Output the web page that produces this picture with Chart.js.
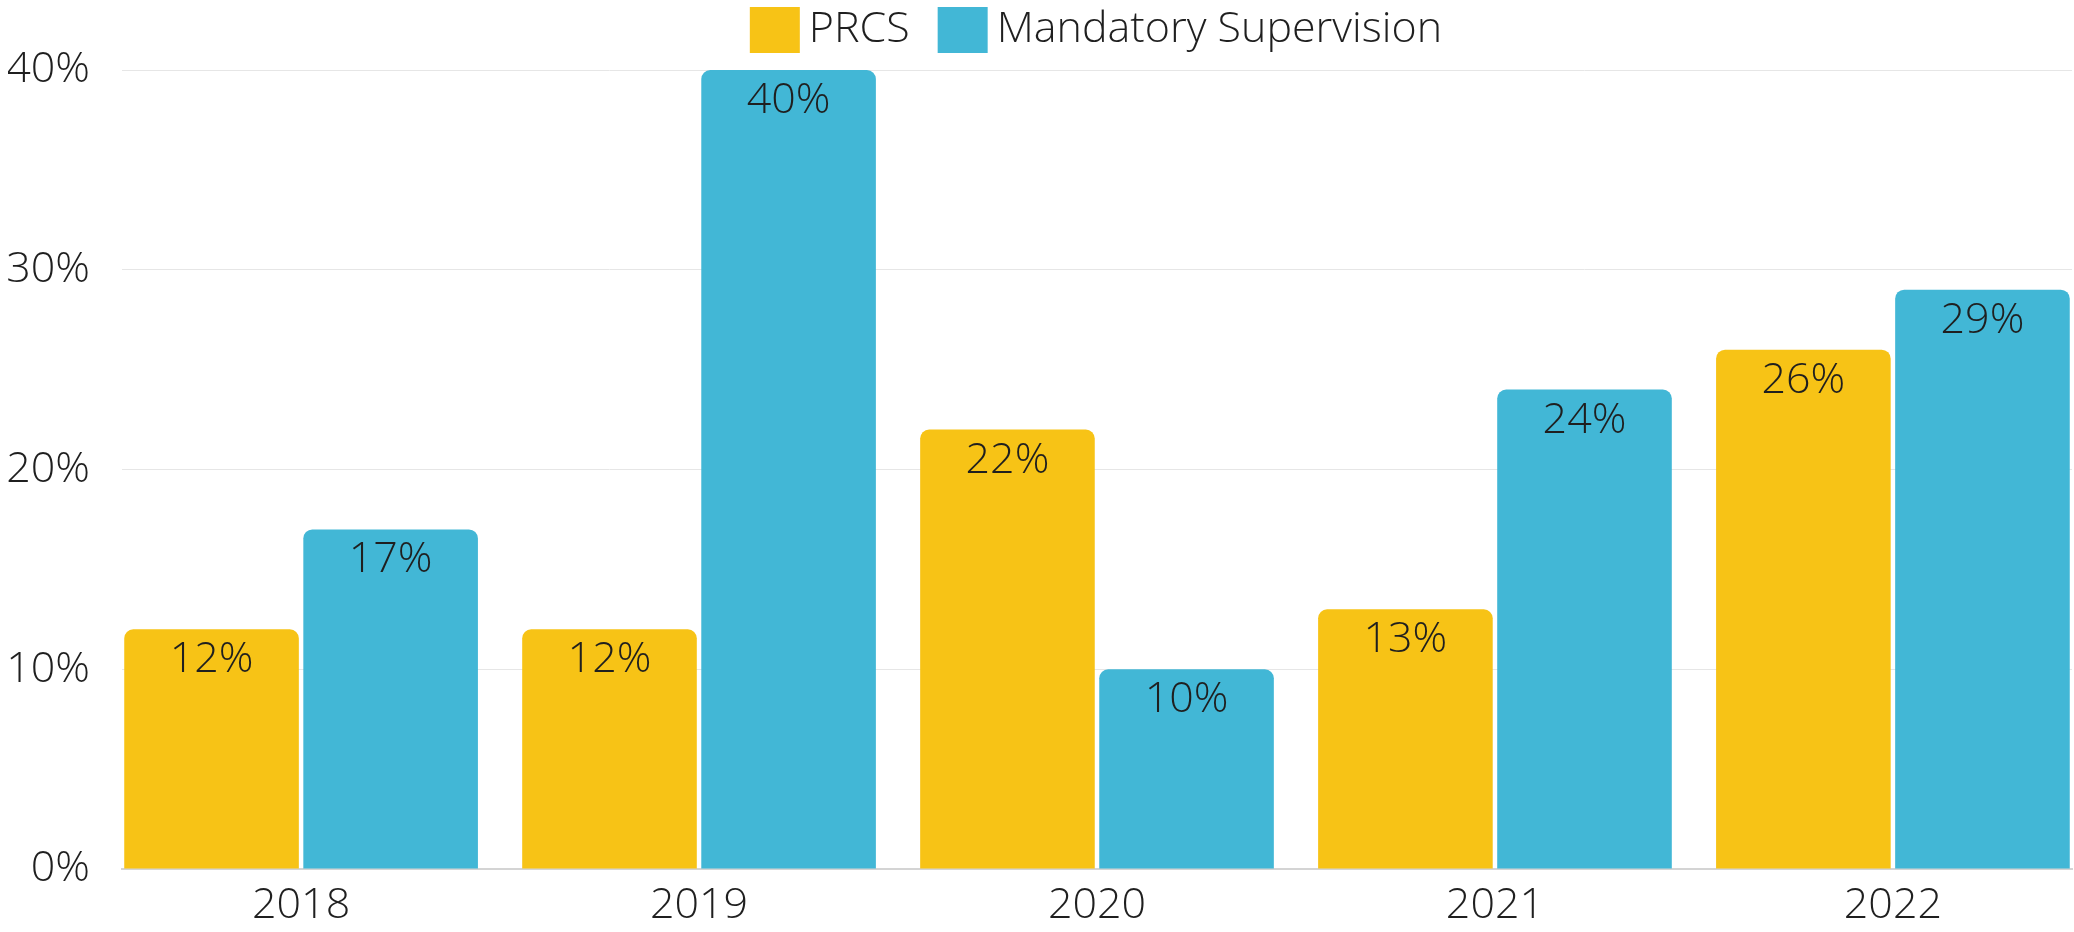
<!DOCTYPE html>
<html>
<head>
<meta charset="utf-8">
<script src="https://cdn.jsdelivr.net/npm/chart.js@4/dist/chart.umd.min.js"></script>
<style>
  html, body { margin: 0; padding: 0; background: #ffffff; overflow: hidden; }
  #wrap { width: 2074px; height: 932px; position: relative; }
</style>
</head>
<body>
<div id="wrap"><canvas id="c" width="2074" height="932"></canvas></div>
<script>
const years = ['2018', '2019', '2020', '2021', '2022'];
const prcs = [12, 12, 22, 13, 26];
const mandatory = [17, 40, 10, 24, 29];
const yTicks = [0, 10, 20, 30, 40];

const FONT = '"Open Sans", "Noto Sans", sans-serif';
const TEXT = '#1f1f1f';

const valueLabels = {
  id: 'valueLabels',
  afterDatasetsDraw(chart) {
    const ctx = chart.ctx;
    ctx.save();
    ctx.font = '300 43px ' + FONT;
    ctx.fillStyle = TEXT;
    ctx.textAlign = 'center';
    ctx.textBaseline = 'alphabetic';
    chart.data.datasets.forEach((ds, di) => {
      const meta = chart.getDatasetMeta(di);
      meta.data.forEach((bar, i) => {
        const v = ds.data[i].y;
        ctx.fillText(v + '%', bar.x, bar.y + 43);
      });
    });
    ctx.restore();
  }
};

const topLegend = {
  id: 'topLegend',
  afterDraw(chart) {
    const ctx = chart.ctx;
    ctx.save();
    ctx.font = '300 43px ' + FONT;
    ctx.textBaseline = 'middle';
    ctx.textAlign = 'left';
    const boxW = 50, boxH = 46, gapText = 9, gapItem = 28;
    const items = chart.data.datasets.map(ds => ({
      label: ds.label, color: ds.backgroundColor, w: ctx.measureText(ds.label).width
    }));
    const total = items.reduce((s, it) => s + boxW + gapText + it.w, 0) + gapItem * (items.length - 1);
    const ca = chart.chartArea;
    let x = (ca.left + ca.right) / 2 - 1 - total / 2;
    const top = 7;
    items.forEach(it => {
      ctx.fillStyle = it.color;
      ctx.fillRect(x, top, boxW, boxH);
      ctx.fillStyle = TEXT;
      ctx.fillText(it.label, x + boxW + gapText, top + boxH / 2);
      x += boxW + gapText + it.w + gapItem;
    });
    ctx.restore();
  }
};

const toPoints = arr => arr.map((v, i) => ({ x: i, y: v }));

new Chart(document.getElementById('c'), {
  type: 'bar',
  data: {
    datasets: [
      {
        label: 'PRCS',
        data: toPoints(prcs),
        backgroundColor: '#F7C316',
        borderRadius: { topLeft: 9, topRight: 9, bottomLeft: 0, bottomRight: 0 },
        borderSkipped: 'bottom'
      },
      {
        label: 'Mandatory Supervision',
        data: toPoints(mandatory),
        backgroundColor: '#42B7D6',
        borderRadius: { topLeft: 9, topRight: 9, bottomLeft: 0, bottomRight: 0 },
        borderSkipped: 'bottom'
      }
    ]
  },
  options: {
    responsive: false,
    animation: false,
    devicePixelRatio: 1,
    categoryPercentage: 0.9,
    barPercentage: 0.975,
    layout: { padding: { top: 70, left: 8, right: 2, bottom: 0 } },
    plugins: {
      legend: { display: false },
      tooltip: { enabled: false }
    },
    scales: {
      x: {
        type: 'linear',
        min: -0.45,
        max: 4.45,
        offset: false,
        afterBuildTicks: (scale) => { scale.ticks = years.map((_, i) => ({ value: i })); },
        afterFit: (scale) => { scale.height = 63; scale.paddingLeft = 0; scale.paddingRight = 0; },
        grid: { display: false, drawTicks: false },
        border: { display: true, color: '#d4d4d4', width: 2 },
        ticks: {
          color: TEXT,
          padding: 11,
          font: { family: FONT, size: 43, weight: '300' },
          callback: (v) => years[v],
          maxRotation: 0,
          autoSkip: false
        }
      },
      y: {
        min: 0,
        max: 40,
        afterBuildTicks: (scale) => { scale.ticks = yTicks.map(v => ({ value: v })); },
        afterFit: (scale) => { scale.width = 114; },
        grid: { color: '#e6e6e6', lineWidth: 1, drawTicks: false },
        border: { display: false },
        ticks: {
          color: TEXT,
          padding: 32,
          font: { family: FONT, size: 43, weight: '300' },
          callback: (v) => v + '%'
        }
      }
    }
  },
  plugins: [valueLabels, topLegend]
});
</script>
</body>
</html>
